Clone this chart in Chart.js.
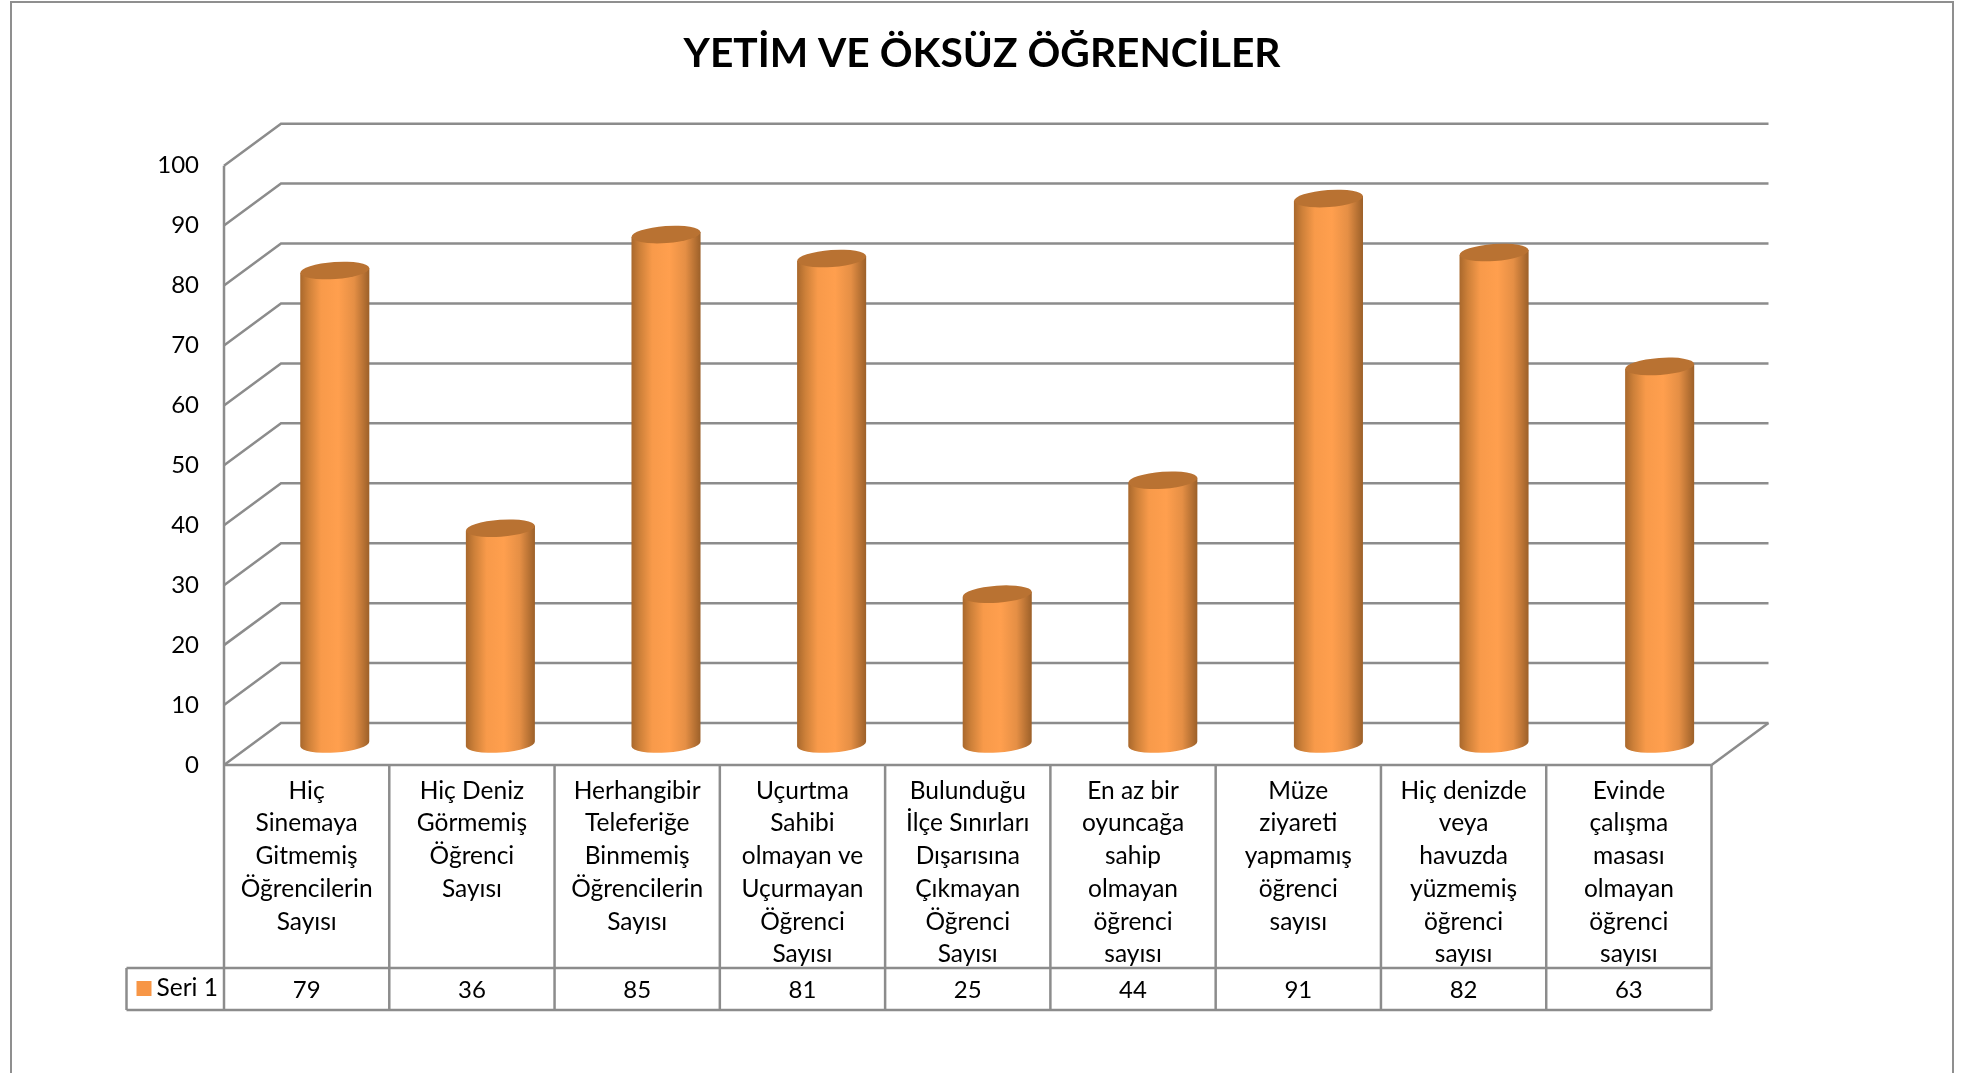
<!DOCTYPE html>
<html lang="tr">
<head>
<meta charset="utf-8">
<title>Yetim ve Öksüz Öğrenciler</title>
<script src="https://cdn.jsdelivr.net/npm/chart.js@4"></script>
<style>
  html, body { margin: 0; padding: 0; background: #fff; overflow: hidden; }
  #frame {
    position: absolute; left: 10px; top: 1px;
    width: 1940px; height: 1070px;
    border: 2px solid #8f8f8f; border-bottom-color: #c8c8c8;
  }
  canvas { display: block; }
</style>
</head>
<body>
<div id="frame"><canvas id="chart" width="1940" height="1070"></canvas></div>
<script>
const titleText = 'YETİM VE ÖKSÜZ ÖĞRENCİLER';
const seriesName = 'Seri 1';
const categories = [
    ['Hiç', 'Sinemaya', 'Gitmemiş', 'Öğrencilerin', 'Sayısı'],
    ['Hiç Deniz', 'Görmemiş', 'Öğrenci', 'Sayısı'],
    ['Herhangibir', 'Teleferiğe', 'Binmemiş', 'Öğrencilerin', 'Sayısı'],
    ['Uçurtma', 'Sahibi', 'olmayan ve', 'Uçurmayan', 'Öğrenci', 'Sayısı'],
    ['Bulunduğu', 'İlçe Sınırları', 'Dışarısına', 'Çıkmayan', 'Öğrenci', 'Sayısı'],
    ['En az bir', 'oyuncağa', 'sahip', 'olmayan', 'öğrenci', 'sayısı'],
    ['Müze', 'ziyareti', 'yapmamış', 'öğrenci', 'sayısı'],
    ['Hiç denizde', 'veya', 'havuzda', 'yüzmemiş', 'öğrenci', 'sayısı'],
    ['Evinde', 'çalışma', 'masası', 'olmayan', 'öğrenci', 'sayısı']
];
const values = [79, 36, 85, 81, 25, 44, 91, 82, 63];

const FONT = 'Lato, Carlito, Calibri, sans-serif';
const LINE = '#8c8c8c';
const LINE_WIDTH = 2.5;
const ORANGE = '#f79646';
const DEPTH_X = 57;   // back wall offset
const DEPTH_Y = 42;

function line(ctx, x1, y1, x2, y2) {
    ctx.beginPath();
    ctx.moveTo(x1, y1);
    ctx.lineTo(x2, y2);
    ctx.stroke();
}

// walls, floor and the data table, all hung on the chart's own scales
const frame3d = {
    id: 'frame3d',
    beforeDatasetsDraw(chart) {
        const { ctx, chartArea: area, scales: { y } } = chart;
        ctx.save();
        ctx.strokeStyle = LINE;
        ctx.lineWidth = LINE_WIDTH;
        ctx.lineJoin = 'miter';
        y.ticks.forEach(t => {
            const py = y.getPixelForValue(t.value);
            ctx.beginPath();
            ctx.moveTo(area.left, py);
            ctx.lineTo(area.left + DEPTH_X, py - DEPTH_Y);
            ctx.lineTo(area.right + DEPTH_X, py - DEPTH_Y);
            ctx.stroke();
        });
        line(ctx, area.left, area.top, area.left, area.bottom);
        line(ctx, area.right, area.bottom, area.right + DEPTH_X, area.bottom - DEPTH_Y);
        ctx.restore();
    },
    afterDatasetsDraw(chart) {
        const { ctx, chartArea: area, scales: { x } } = chart;
        const rowTop = area.bottom + 203;
        const rowBottom = area.bottom + 245;
        const legendLeft = area.left - 97.5;
        const colWidth = (area.right - area.left) / values.length;

        ctx.save();
        ctx.strokeStyle = LINE;
        ctx.lineWidth = LINE_WIDTH;
        line(ctx, area.left, area.bottom, area.right, area.bottom);
        for (let i = 0; i <= values.length; i++) {
            const px = area.left + i * colWidth;
            line(ctx, px, area.bottom, px, rowBottom);
        }
        line(ctx, legendLeft, rowTop, area.right, rowTop);
        line(ctx, legendLeft, rowBottom, area.right, rowBottom);
        line(ctx, legendLeft, rowTop, legendLeft, rowBottom);

        ctx.fillStyle = '#000';
        ctx.font = '24px ' + FONT;
        ctx.textAlign = 'center';
        ctx.textBaseline = 'middle';
        values.forEach((v, i) => ctx.fillText(String(v), x.getPixelForValue(i), rowTop + 22));

        ctx.fillStyle = ORANGE;
        ctx.fillRect(legendLeft + 10, rowTop + 13, 15, 15);
        ctx.fillStyle = '#000';
        ctx.textAlign = 'left';
        ctx.font = '24.5px ' + FONT;
        ctx.fillText(seriesName, legendLeft + 30, rowTop + 20);
        ctx.restore();
    }
};

// bars are drawn as cylinders standing halfway into the floor
const cylinders = {
    id: 'cylinders',
    beforeDatasetDraw(chart, args) {
        const { ctx, chartArea: area } = chart;
        args.meta.data.forEach(bar => {
            const { x, y, base, width } = bar.getProps(['x', 'y', 'base', 'width']);
            // the cylinder row runs a touch wider than the table columns
            const cx = x + DEPTH_X / 2 + (x - area.left) * 0.002 - 0.5;
            const topY = y - DEPTH_Y / 2;
            const baseY = base - DEPTH_Y / 2;
            const rx = width / 2;
            const ry = 8.5;
            const tilt = -0.072;
            const slant = rx * Math.sin(-tilt);

            const grad = ctx.createLinearGradient(cx - rx, 0, cx + rx, 0);
            grad.addColorStop(0, '#a9682c');
            grad.addColorStop(0.12, '#cd8039');
            grad.addColorStop(0.3, '#f89a4a');
            grad.addColorStop(0.55, '#ff9f4e');
            grad.addColorStop(0.78, '#e58f45');
            grad.addColorStop(1, '#9c6029');

            ctx.save();
            ctx.fillStyle = grad;
            ctx.beginPath();
            ctx.moveTo(cx - rx, topY + slant);
            ctx.lineTo(cx - rx, baseY + slant);
            ctx.ellipse(cx, baseY, rx, ry, tilt, Math.PI, 0, true);
            ctx.lineTo(cx + rx, topY - slant);
            ctx.closePath();
            ctx.fill();

            ctx.fillStyle = '#b97232';
            ctx.beginPath();
            ctx.ellipse(cx, topY, rx, ry, tilt, 0, Math.PI * 2);
            ctx.fill();
            ctx.restore();
        });
        return false;
    }
};

new Chart(document.getElementById('chart'), {
    type: 'bar',
    data: {
        labels: categories,
        datasets: [{
            label: seriesName,
            data: values,
            backgroundColor: ORANGE,
            categoryPercentage: 1,
            barPercentage: 0.418
        }]
    },
    options: {
        responsive: false,
        animation: false,
        plugins: {
            legend: { display: false },
            tooltip: { enabled: false },
            title: {
                display: true,
                text: titleText,
                color: '#000',
                font: { family: FONT, size: 40.7, weight: 'bold', lineHeight: 1.2 },
                padding: { top: 26, bottom: 87.8 }
            }
        },
        scales: {
            x: {
                afterFit: s => { s.height = 308; },
                grid: { display: false },
                border: { display: false },
                ticks: {
                    autoSkip: false,
                    maxRotation: 0,
                    padding: 1.5,
                    color: '#000',
                    font: { family: FONT, size: 24.5, lineHeight: 1.335 }
                }
            },
            y: {
                min: 0,
                max: 100,
                afterFit: s => { s.width = 212; },
                grid: { display: false },
                border: { display: false },
                ticks: {
                    stepSize: 10,
                    padding: 17,
                    color: '#000',
                    font: { family: FONT, size: 24 }
                }
            },
            // empty margin on the right so the title centres on the whole frame
            margin: {
                type: 'linear',
                position: 'right',
                display: true,
                afterFit: s => { s.width = 240.5; },
                grid: { display: false },
                border: { display: false },
                ticks: { display: false }
            }
        }
    },
    plugins: [frame3d, cylinders]
});
</script>
</body>
</html>
